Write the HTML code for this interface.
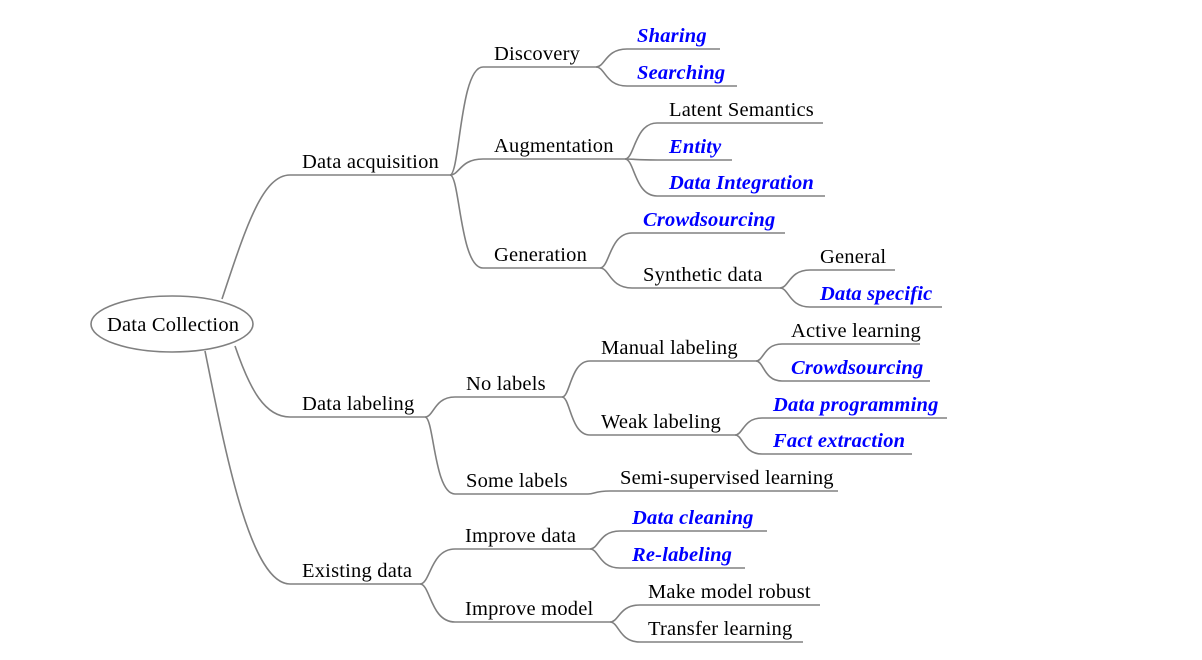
<!DOCTYPE html>
<html><head><meta charset="utf-8"><style>
html,body{margin:0;padding:0;background:#fff}
svg{display:block}
text{font-family:"Liberation Serif",serif;font-size:20.5px;letter-spacing:0.2px;fill:#000}
text.b{fill:#0000ff;font-weight:bold;font-style:italic}
</style></head><body>
<svg id="s" width="1202" height="660" viewBox="0 0 1202 660">
<g id="lines" fill="none" stroke="#808080" stroke-width="1.6"></g>
<ellipse cx="172" cy="324" rx="81" ry="28" fill="#fff" stroke="#808080" stroke-width="1.6"/>
<text x="107" y="331">Data Collection</text>
<text x="302" y="168">Data acquisition</text>
<text x="494" y="60">Discovery</text>
<text class="b" x="637" y="42">Sharing</text>
<text class="b" x="637" y="79">Searching</text>
<text x="494" y="152">Augmentation</text>
<text x="669" y="116">Latent Semantics</text>
<text class="b" x="669" y="153">Entity</text>
<text class="b" x="669" y="189">Data Integration</text>
<text x="494" y="261">Generation</text>
<text class="b" x="643" y="226">Crowdsourcing</text>
<text x="643" y="281">Synthetic data</text>
<text x="820" y="263">General</text>
<text class="b" x="820" y="300">Data specific</text>
<text x="302" y="410">Data labeling</text>
<text x="466" y="390">No labels</text>
<text x="601" y="354">Manual labeling</text>
<text x="791" y="337">Active learning</text>
<text class="b" x="791" y="374">Crowdsourcing</text>
<text x="601" y="428">Weak labeling</text>
<text class="b" x="773" y="411">Data programming</text>
<text class="b" x="773" y="447">Fact extraction</text>
<text x="466" y="487">Some labels</text>
<text x="620" y="484">Semi-supervised learning</text>
<text x="302" y="577">Existing data</text>
<text x="465" y="542">Improve data</text>
<text class="b" x="632" y="524">Data cleaning</text>
<text class="b" x="632" y="561">Re-labeling</text>
<text x="465" y="615">Improve model</text>
<text x="648" y="598">Make model robust</text>
<text x="648" y="635">Transfer learning</text>
</svg>
<script>
var N={
DA:[290,450,175],Di:[483,596,67],Sh:[627,720,49],Se:[627,737,86],Au:[483,625,159],
La:[657,823,123],En:[657,732,160],DI:[657,825,196],Ge:[483,600,268],Cr:[632,785,233],
Sy:[632,780,288],Gn:[810,895,270],Ds:[810,942,307],DL:[290,425,417],NL:[455,562,397],
Ma:[590,756,361],Ac:[782,920,344],C2:[782,930,381],We:[590,735,435],DP:[762,947,418],
Fa:[762,912,454],So:[455,588,494],Sm:[610,838,491],Ex:[290,420,584],ID:[455,590,549],
Cl:[620,767,531],Re:[620,745,568],IM:[455,610,622],Mk:[640,820,605],Tr:[640,803,642]};
var E=[["DA","Di"],["DA","Au"],["DA","Ge"],["Di","Sh"],["Di","Se"],["Au","La"],["Au","En"],["Au","DI"],
["Ge","Cr"],["Ge","Sy"],["Sy","Gn"],["Sy","Ds"],["DL","NL"],["DL","So"],["NL","Ma"],["NL","We"],
["Ma","Ac"],["Ma","C2"],["We","DP"],["We","Fa"],["So","Sm"],["Ex","ID"],["Ex","IM"],["ID","Cl"],["ID","Re"],["IM","Mk"],["IM","Tr"]];
var g=document.getElementById("lines"),h="";
for(var k in N){var n=N[k];h+='<path d="M'+n[0]+' '+n[2]+'H'+n[1]+'"/>';}
E.forEach(function(e){var p=N[e[0]],c=N[e[1]],a=p[1],b=p[2],x=c[0],d=c[2],w=x-a;
h+='<path d="M'+a+' '+b+'C'+(a+0.3*w)+' '+b+' '+(a+0.3*w)+' '+d+' '+x+' '+d+'"/>';});
h+='<path d="M222 299C245 230 262 175 290 175"/>';
h+='<path d="M235 346C250 390 265 417 290 417"/>';
h+='<path d="M205 351C225 450 250 584 290 584"/>';
g.innerHTML=h;
</script>
</body></html>
